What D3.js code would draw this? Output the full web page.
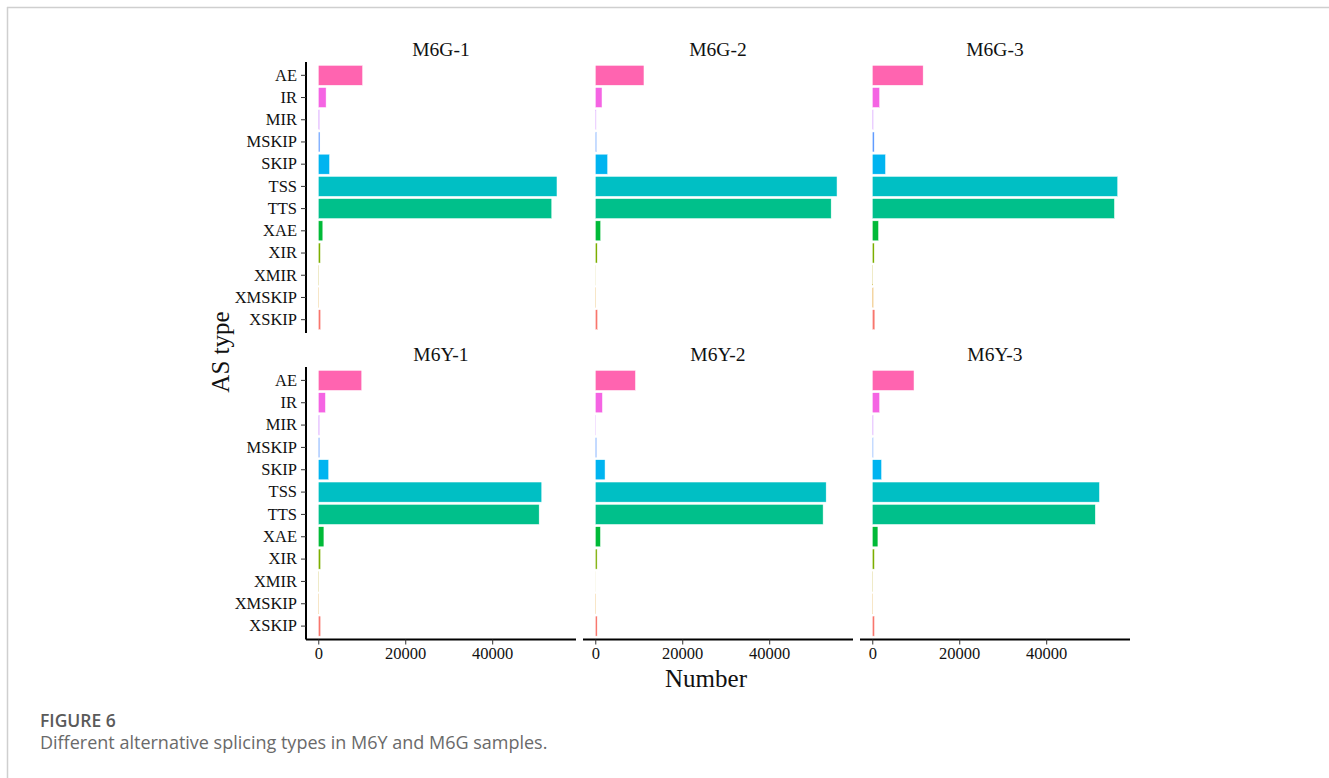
<!DOCTYPE html>
<html>
<head>
<meta charset="utf-8">
<script src="https://cdn.jsdelivr.net/npm/d3@7/dist/d3.min.js"></script>
<style>
  html, body { margin: 0; padding: 0; background: #fff; }
  svg { display: block; }
</style>
</head>
<body>
<svg id="fig" width="1329" height="778"></svg>
<script>
// Alternative splicing event types (top to bottom on the y axis)
const asTypes = ["AE", "IR", "MIR", "MSKIP", "SKIP", "TSS", "TTS", "XAE", "XIR", "XMIR", "XMSKIP", "XSKIP"];

// Sample names, one facet each
const samples = ["M6G-1", "M6G-2", "M6G-3", "M6Y-1", "M6Y-2", "M6Y-3"];

// Event counts per sample, in the order of asTypes
const countsM6G1 = [10200, 1800, 300, 400, 2600, 54900, 53700, 1050, 500, 100, 150, 570];
const countsM6G2 = [11200, 1550, 200, 320, 2850, 55600, 54250, 1250, 460, 50, 150, 550];
const countsM6G3 = [11700, 1700, 250, 460, 3050, 56450, 55700, 1450, 460, 150, 250, 600];
const countsM6Y1 = [10000, 1650, 300, 350, 2400, 51400, 50800, 1300, 550, 100, 150, 570];
const countsM6Y2 = [9250, 1650, 100, 340, 2250, 53100, 52400, 1200, 430, 30, 100, 450];
const countsM6Y3 = [9600, 1700, 250, 250, 2150, 52250, 51300, 1300, 500, 100, 150, 520];

// x axis tick values
const xTicks = [0, 20000, 40000];

// Fill colour of each AS type (ggplot hue palette)
const typeColors = ["#FF64B0", "#F564E3", "#C77CFF", "#619CFF", "#00B4F0", "#00BFC4",
                    "#00C08B", "#00BA38", "#7CAE00", "#B79F00", "#DE8C00", "#F8766D"];

const sampleCounts = [countsM6G1, countsM6G2, countsM6G3, countsM6Y1, countsM6Y2, countsM6Y3];

const svg = d3.select("#fig");
const serif = "'Liberation Serif', 'Times New Roman', serif";

// page frame
svg.append("line").attr("x1", 7).attr("x2", 1329).attr("y1", 7.5).attr("y2", 7.5)
  .attr("stroke", "#cfcfcf").attr("stroke-width", 1.5);
svg.append("line").attr("x1", 7.5).attr("x2", 7.5).attr("y1", 7).attr("y2", 778)
  .attr("stroke", "#cfcfcf").attr("stroke-width", 1.5);

// facet geometry
const panelW = 270;
const panelLefts = [306, 583, 860];
const rows = [{ top: 62, bottom: 333 }, { top: 367, bottom: 639.5 }];

const maxCount = d3.max(sampleCounts.flat());
const x = d3.scaleLinear()
  .domain([-0.05 * maxCount, 1.05 * maxCount])
  .range([0, panelW]);

const color = d3.scaleOrdinal().domain(asTypes).range(typeColors);

samples.forEach((name, si) => {
  const col = si % 3;
  const row = rows[Math.floor(si / 3)];
  const left = panelLefts[col];
  const y = d3.scaleBand()
    .domain(asTypes)
    .range([row.top, row.bottom])
    .paddingInner(0.1)
    .paddingOuter(0.15);

  const g = svg.append("g").attr("transform", `translate(${left},0)`);

  // facet title
  g.append("text")
    .attr("x", panelW / 2)
    .attr("y", row.top - 6)
    .attr("text-anchor", "middle")
    .attr("font-family", serif)
    .attr("font-size", 19.5)
    .attr("fill", "#111")
    .text(name);

  // bars
  const rowsData = asTypes.map((t, i) => ({ type: t, value: sampleCounts[si][i] }));
  g.selectAll("rect.bar")
    .data(rowsData)
    .join("rect")
    .attr("class", "bar")
    .attr("x", x(0))
    .attr("y", d => y(d.type))
    .attr("width", d => x(d.value) - x(0))
    .attr("height", y.bandwidth())
    .attr("fill", d => color(d.type))
    .attr("stroke", "#ffffff")
    .attr("stroke-width", 0.5);

  // y axis on the left column only
  if (col === 0) {
    const yAxis = g.append("g")
      .call(d3.axisLeft(y).tickSize(5).tickPadding(4));
    yAxis.select(".domain").attr("stroke", "#000").attr("stroke-width", 2)
      .attr("d", `M0,${row.top}V${row.bottom}`);
    yAxis.selectAll(".tick line").attr("stroke", "#333").attr("stroke-width", 1);
    yAxis.selectAll(".tick text")
      .attr("font-family", serif).attr("font-size", 16.5).attr("fill", "#111");
  }

  // x axis on the bottom row only
  if (si >= 3) {
    const xAxis = g.append("g")
      .attr("transform", `translate(0,${row.bottom})`)
      .call(d3.axisBottom(x).tickValues(xTicks).tickFormat(d3.format("d")).tickSize(5).tickPadding(3));
    xAxis.select(".domain").attr("stroke", "#000").attr("stroke-width", 2)
      .attr("d", `M0,0H${panelW}`);
    xAxis.selectAll(".tick line").attr("stroke", "#333").attr("stroke-width", 1);
    xAxis.selectAll(".tick text")
      .attr("font-family", serif).attr("font-size", 16.5).attr("fill", "#111");
  }
});

// axis titles
svg.append("text")
  .attr("x", panelLefts[1] + panelW / 2 - 12)
  .attr("y", 687)
  .attr("text-anchor", "middle")
  .attr("font-family", serif)
  .attr("font-size", 25)
  .attr("fill", "#111")
  .text("Number");

svg.append("text")
  .attr("transform", `translate(229,352) rotate(-90)`)
  .attr("text-anchor", "middle")
  .attr("font-family", serif)
  .attr("font-size", 25)
  .attr("fill", "#111")
  .text("AS type");

// figure caption
svg.append("text")
  .attr("x", 40)
  .attr("y", 727)
  .attr("font-family", "'Open Sans', sans-serif")
  .attr("font-weight", 600)
  .attr("font-size", 17.5)
  .attr("fill", "#5a5a5a")
  .text("FIGURE 6");

svg.append("text")
  .attr("x", 40)
  .attr("y", 749)
  .attr("font-family", "'Open Sans', sans-serif")
  .attr("font-size", 18)
  .attr("fill", "#6a6a6a")
  .text("Different alternative splicing types in M6Y and M6G samples.");
</script>
</body>
</html>
